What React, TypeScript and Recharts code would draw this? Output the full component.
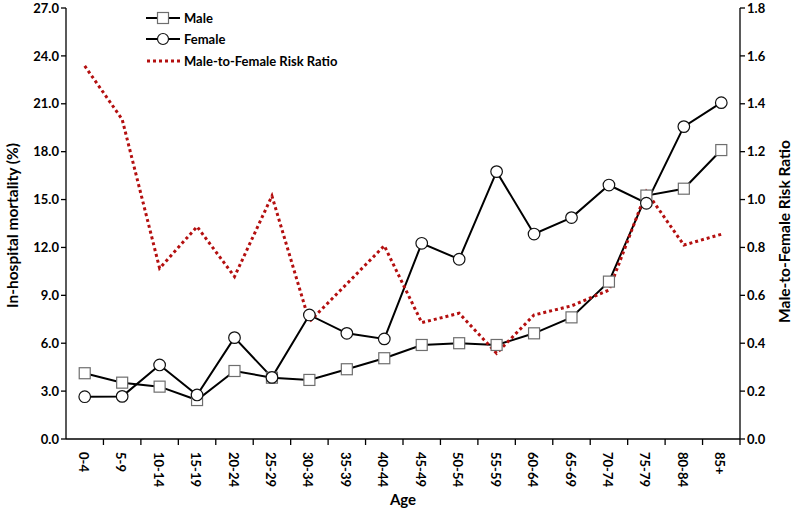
import {
  ComposedChart,
  Line,
  XAxis,
  YAxis,
  Legend,
} from "recharts";

const ageGroups = [
  "0-4", "5-9", "10-14", "15-19", "20-24", "25-29", "30-34", "35-39", "40-44",
  "45-49", "50-54", "55-59", "60-64", "65-69", "70-74", "75-79", "80-84", "85+",
];
const maleMortality = [
  4.12, 3.53, 3.28, 2.44, 4.26, 3.84, 3.7, 4.37, 5.06,
  5.89, 6.0, 5.89, 6.62, 7.62, 9.86, 15.25, 15.68, 18.1,
];
const femaleMortality = [
  2.65, 2.67, 4.64, 2.76, 6.35, 3.86, 7.77, 6.62, 6.27,
  12.26, 11.26, 16.75, 12.84, 13.87, 15.91, 14.77, 19.57, 21.07,
];
const riskRatio = [
  1.558, 1.335, 0.713, 0.887, 0.678, 1.015, 0.49, 0.648, 0.807,
  0.486, 0.525, 0.358, 0.518, 0.556, 0.622, 1.033, 0.81, 0.855,
];
const leftTicks = [0, 3, 6, 9, 12, 15, 18, 21, 24, 27];
const rightTicks = [0, 0.2, 0.4, 0.6, 0.8, 1.0, 1.2, 1.4, 1.6, 1.8];
const seriesNames = ["Male", "Female", "Male-to-Female Risk Ratio"];

const data = ageGroups.map((age, i) => ({
  age,
  male: maleMortality[i],
  female: femaleMortality[i],
  ratio: riskRatio[i],
}));

const FONT = "Lato, 'Open Sans', sans-serif";
const RED = "#B40F0F";

function SquareDot(props: any) {
  const { cx, cy } = props;
  if (cx == null || cy == null) return null;
  return <rect x={cx - 5.5} y={cy - 5.5} width={11} height={11} fill="#fff" stroke="#6e6e6e" strokeWidth={1.2} />;
}

function CircleDot(props: any) {
  const { cx, cy } = props;
  if (cx == null || cy == null) return null;
  return <circle cx={cx} cy={cy} r={5.8} fill="#fff" stroke="#111" strokeWidth={1.2} />;
}

function AgeTick(props: any) {
  const { x, y, payload } = props;
  const half = payload.offset || 0;
  return (
    <g>
      <line x1={x + half} y1={y - 8} x2={x + half} y2={y - 2} stroke="#000" strokeWidth={1.3} />
      <text
        transform={`translate(${x - 6},${y + 5}) rotate(90)`}
        textAnchor="start"
        fontFamily={FONT}
        fontWeight={700}
        fontSize={13}
        fill="#000"
      >
        {payload.value}
      </text>
    </g>
  );
}

function SideTitle({ viewBox, value, dx, dy = 0 }: any) {
  const cx = viewBox.x + dx;
  const cy = viewBox.y + viewBox.height / 2 + dy;
  return (
    <text
      transform={`translate(${cx},${cy}) rotate(-90)`}
      textAnchor="middle"
      fontFamily={FONT}
      fontWeight={700}
      fontSize={15.5}
      fill="#000"
    >
      {value}
    </text>
  );
}

function LegendBox() {
  const row = (i: number) => (
    <div key={i} style={{ display: "flex", alignItems: "center", height: 21.5 }}>
      <svg width={37} height={14}>
        {i === 2 ? (
          <line x1={1} y1={7} x2={35} y2={7} stroke={RED} strokeWidth={3} strokeDasharray="3 3" />
        ) : (
          <line x1={0} y1={7} x2={34} y2={7} stroke="#000" strokeWidth={2} />
        )}
        {i === 0 && <rect x={11.5} y={1.5} width={11} height={11} fill="#fff" stroke="#6e6e6e" strokeWidth={1.2} />}
        {i === 1 && <circle cx={17} cy={7} r={5.5} fill="#fff" stroke="#111" strokeWidth={1.2} />}
      </svg>
      <span style={{ fontFamily: FONT, fontWeight: 700, fontSize: 13, color: "#000", marginLeft: 1 }}>
        {seriesNames[i]}
      </span>
    </div>
  );
  return <div>{[0, 1, 2].map(row)}</div>;
}

export default function App() {
  return (
    <div style={{ position: "absolute", left: 0, top: 0, width: 800, height: 509, background: "#fff" }}>
      <ComposedChart width={800} height={509} data={data} margin={{ top: 8, right: 0, bottom: 0, left: 0 }}>
        <XAxis
          dataKey="age"
          scale="band"
          height={70}
          axisLine={{ stroke: "#000", strokeWidth: 1.3 }}
          tickLine={false}
          tick={<AgeTick />}
          interval={0}
          label={{ value: "Age", position: "insideBottom", offset: 4, fontFamily: FONT, fontWeight: 700, fontSize: 15, fill: "#000" }}
        />
        <YAxis
          yAxisId="left"
          width={66}
          domain={[0, 27]}
          ticks={leftTicks}
          tickFormatter={(v: number) => v.toFixed(1)}
          axisLine={{ stroke: "#000", strokeWidth: 1.3 }}
          tickLine={{ stroke: "#000", strokeWidth: 1.3 }}
          tickSize={5}
          tick={{ fontFamily: FONT, fontWeight: 700, fontSize: 13, fill: "#000" }}
          label={(p: any) => <SideTitle {...p} value="In-hospital mortality (%)" dx={18} dy={2} />}
        />
        <YAxis
          yAxisId="right"
          orientation="right"
          width={60}
          domain={[0, 1.8]}
          ticks={rightTicks}
          tickFormatter={(v: number) => v.toFixed(1)}
          axisLine={{ stroke: "#000", strokeWidth: 1.3 }}
          tickLine={{ stroke: "#000", strokeWidth: 1.3 }}
          tickSize={5}
          tick={{ fontFamily: FONT, fontWeight: 700, fontSize: 13, fill: "#000" }}
          label={(p: any) => <SideTitle {...p} value="Male-to-Female Risk Ratio" dx={50} dy={8} />}
        />
        <Legend
          layout="vertical"
          verticalAlign="middle"
          align="center"
          content={() => <LegendBox />}
          wrapperStyle={{ top: 7, left: 146, width: 260 }}
        />
        <Line
          yAxisId="left"
          type="linear"
          dataKey="male"
          name="Male"
          stroke="#000"
          strokeWidth={2}
          dot={<SquareDot />}
          activeDot={false}
          isAnimationActive={false}
        />
        <Line
          yAxisId="left"
          type="linear"
          dataKey="female"
          name="Female"
          stroke="#000"
          strokeWidth={2}
          dot={<CircleDot />}
          activeDot={false}
          isAnimationActive={false}
        />
        <Line
          yAxisId="right"
          type="linear"
          dataKey="ratio"
          name="Male-to-Female Risk Ratio"
          stroke={RED}
          strokeWidth={3}
          strokeDasharray="3 3"
          dot={false}
          activeDot={false}
          isAnimationActive={false}
        />
      </ComposedChart>
    </div>
  );
}
